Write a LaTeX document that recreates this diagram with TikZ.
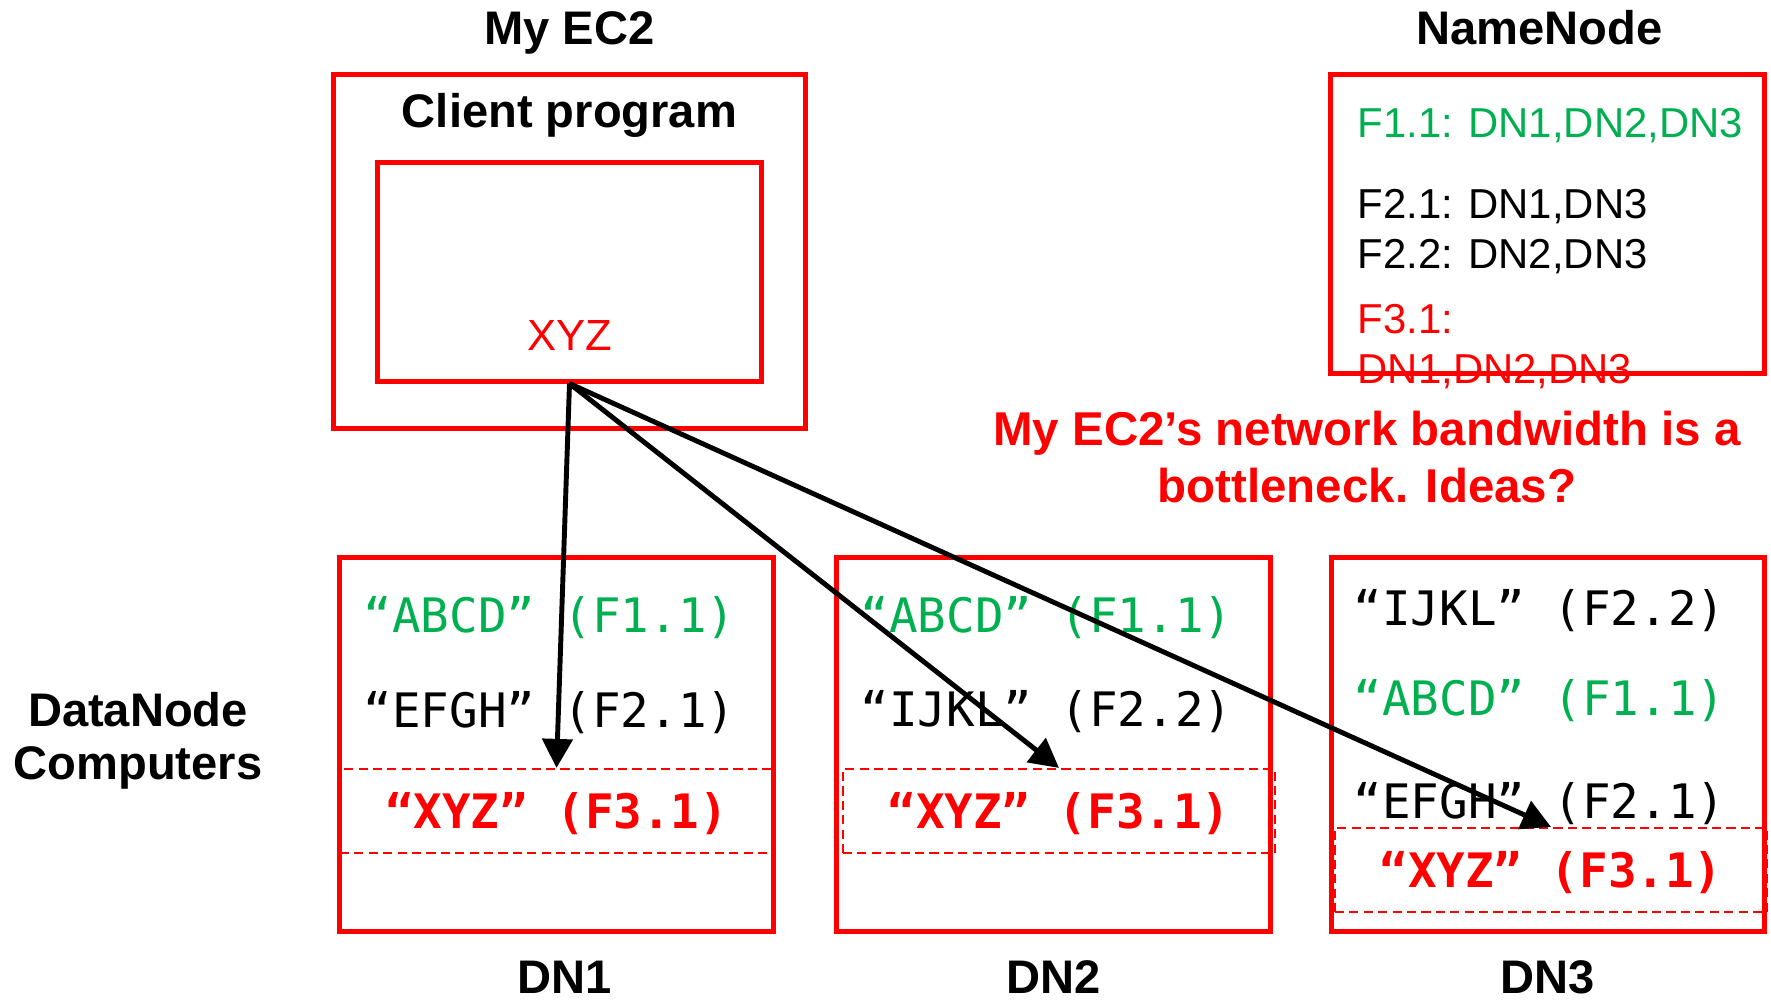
\documentclass[tikz,border=0pt]{standalone}
\usepackage{fontspec}
\setmainfont{Liberation Sans}
\setmonofont{DejaVu Sans Mono}
\usepackage{xcolor}
\usepackage{tikz}
\usetikzlibrary{positioning,arrows.meta}
\definecolor{hdfsred}{HTML}{FF0000}
\definecolor{hdfsgreen}{HTML}{00B050}
\definecolor{ink}{HTML}{000000}
\tikzset{
    box/.style={rectangle, draw=hdfsred, line width=1.4pt, inner sep=0pt},
    slot/.style={rectangle, draw=hdfsred, dash pattern=on 2.6pt off 1.5pt, line width=0.6pt, minimum height=0.84cm, inner sep=0pt, text height=0.98em, text depth=0pt, font=\ttfamily\bfseries\fontsize{13.5}{16}\selectfont, text=hdfsred},
    heading/.style={font=\bfseries\fontsize{13.4}{15}\selectfont, inner sep=0pt, text height=0.75em, text depth=0.25em},
    side/.style={font=\bfseries\fontsize{13.4}{15.1}\selectfont, inner sep=0pt, align=center},
    chunk/.style={font=\ttfamily\fontsize{13.5}{16}\selectfont, inner sep=0pt, anchor=base west},
    meta/.style={font=\fontsize{11.9}{14}\selectfont, inner sep=0pt, anchor=base west},
    arrow/.style={-{Triangle[length=0.29cm, width=0.3cm]}, line width=1.4pt, color=ink}
}

\begin{document}
\begin{tikzpicture}[x=0.01cm, y=-0.01cm]

\useasboundingbox (0,0) rectangle (1771,999);

\node[box, minimum width=4.71cm, minimum height=3.53cm] (ec2) at (569.5,251.5) {};
\node[box, minimum width=3.83cm, minimum height=2.18cm, below=0.88cm of ec2.north] (client) {};
\node[heading, above=0.18cm of ec2] (ec2title) {My EC2};
\node[heading, anchor=base] (clienttitle) at ([yshift=-0.55cm]ec2.north) {Client program};
\node[font=\fontsize{12.4}{14}\selectfont, text=hdfsred, inner sep=0pt, anchor=base] (xyz) at ([yshift=0.33cm]client.south) {XYZ};

\node[box, minimum width=4.33cm, minimum height=2.98cm] (nn) at (1547.5,224) {};
\node[heading, above=0.18cm of nn, xshift=-0.08cm] (nntitle) {NameNode};
\node[meta, text=hdfsgreen] (f11) at (1357,137) {F1.1: DN1,DN2,DN3};
\node[meta] (f21) at (1357,218) {F2.1: DN1,DN3};
\node[meta] (f22) at ([yshift=-0.5cm]f21.base west) {F2.2: DN2,DN3};
\node[meta, text=hdfsred] (f31) at (1357,333) {F3.1:};
\node[meta, text=hdfsred] (f31b) at ([yshift=-0.5cm]f31.base west) {DN1,DN2,DN3};

\node[side, font=\bfseries\fontsize{13.5}{16.2}\selectfont, text=hdfsred] (note) at (1367,457) {My EC2’s network bandwidth is a\\bottleneck. Ideas?};

\node[side] (dnlabel) at (138,741) {DataNode\\Computers};

\node[box, minimum width=4.33cm, minimum height=3.73cm] (dn1) at (556.5,744.5) {};
\node[box, minimum width=4.34cm, minimum height=3.73cm, right=0.58cm of dn1] (dn2) {};
\node[box, minimum width=4.33cm, minimum height=3.73cm, right=0.56cm of dn2] (dn3) {};
\node[heading, text depth=0pt, below=0.33cm of dn1, xshift=0.08cm] (dn1title) {DN1};
\node[heading, text depth=0pt, below=0.33cm of dn2] (dn2title) {DN2};
\node[heading, text depth=0pt, below=0.33cm of dn3] (dn3title) {DN3};

\node[chunk, text=hdfsgreen] (d1a) at (363,632) {“ABCD” (F1.1)};
\node[chunk] (d1b) at (363,727) {“EFGH” (F2.1)};
\node[slot, minimum width=4.33cm] (s1) at (556.5,811) {“XYZ” (F3.1)};

\node[chunk, text=hdfsgreen] (d2a) at (860,632) {“ABCD” (F1.1)};
\node[chunk] (d2b) at (860,726) {“IJKL” (F2.2)};
\node[slot, minimum width=4.32cm] (s2) at (1059,811) {“XYZ” (F3.1)};

\node[chunk] (d3a) at (1353,625) {“IJKL” (F2.2)};
\node[chunk, text=hdfsgreen] (d3b) at (1353,715) {“ABCD” (F1.1)};
\node[chunk] (d3c) at (1353,818) {“EFGH” (F2.1)};
\node[slot, minimum width=4.32cm] (s3) at (1551,870) {“XYZ” (F3.1)};

\draw[arrow] (client.south) -- (s1.north);
\draw[arrow] (client.south) -- (s2.north);
\draw[arrow] (client.south) -- (s3.north);

\end{tikzpicture}
\end{document}
